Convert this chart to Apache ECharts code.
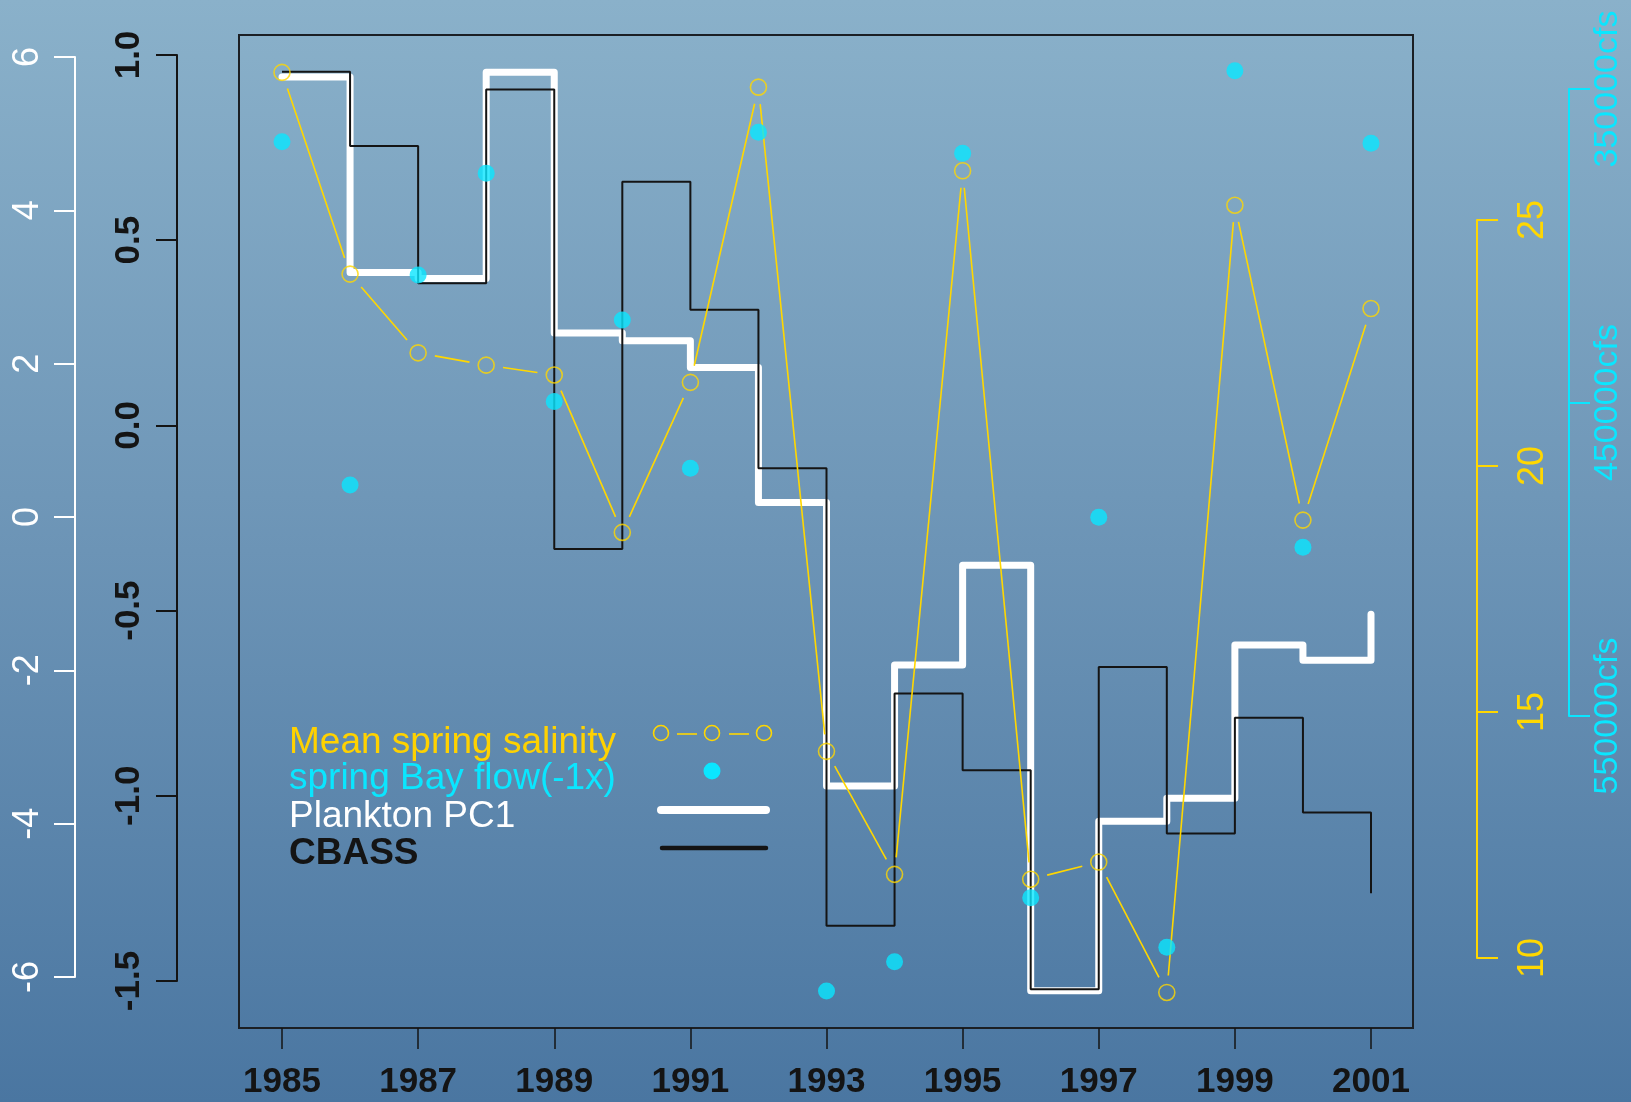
<!DOCTYPE html>
<html>
<head>
<meta charset="utf-8">
<title>Plankton PC1, CBASS, salinity and Bay flow</title>
<script src="https://cdn.jsdelivr.net/npm/echarts@6/dist/echarts.min.js"></script>
<style>
  html, body { margin: 0; padding: 0; background: #6b93b6; }
  #chart { width: 1631px; height: 1102px; }
</style>
</head>
<body>
<div id="chart"></div>
<script>
// ---- data -------------------------------------------------------------
const years = [1985, 1986, 1987, 1988, 1989, 1990, 1991, 1992, 1993,
               1994, 1995, 1996, 1997, 1998, 1999, 2000, 2001];
// mean spring salinity
const salinity = [28.0, 23.9, 22.3, 22.05, 21.85, 18.65, 21.7, 27.7, 14.2,
                  11.7, 26.0, 11.6, 11.95, 9.3, 25.3, 18.9, 23.2];
// spring Bay flow (cfs), plotted on an inverted axis
const bayFlow = [366800, 476300, 409300, 376900, 449700, 423700, 471000, 363800, 637700,
                 628400, 370500, 608000, 486600, 623800, 344200, 496200, 367300];
// plankton PC1 score
const planktonPC1 = [5.74, 3.19, 3.11, 5.80, 2.40, 2.30, 1.95, 0.19, -3.51,
                     -1.93, -0.63, -6.18, -3.97, -3.67, -1.67, -1.87, -1.27];
// CBASS index
const cbass = [0.955, 0.754, 0.384, 0.907, -0.334, 0.658, 0.312, -0.116, -1.351,
               -0.724, -0.931, -1.522, -0.652, -1.102, -0.789, -1.045, -1.263];

// axis tick ranges
const pcTicks = { min: -6, max: 6, step: 2 };
const cbassTicks = { min: -1.5, max: 1.0, step: 0.5 };
const salTicks = { min: 10, max: 25, step: 5 };
const flowTicks = { min: 350000, max: 550000, step: 100000 };
const legendLabels = ['Mean spring salinity', 'spring Bay flow(-1x)', 'Plankton PC1', 'CBASS'];

// ---- layout -----------------------------------------------------------
const PLOT = { left: 239, top: 35, right: 1413, bottom: 1028 };
const X_FIRST_PX = 282, X_LAST_PX = 1371;
const AX = {
  pc:    { x: 75,   top: 57,  bottom: 977 },
  cbass: { x: 177,  top: 55,  bottom: 981 },
  sal:   { x: 1477, top: 220, bottom: 958 },
  flow:  { x: 1569, top: 89,  bottom: 716 }
};
const GOLD = '#FFD700';
const CYAN = '#0AE6FF';
const INK = '#141414';
const FONT = "'Liberation Sans', Arial, sans-serif";

// value at pixel y, for an axis where vTop sits at pxTop and vBot at pxBot
function valueAt(py, vTop, pxTop, vBot, pxBot) {
  return vTop + (py - pxTop) * (vBot - vTop) / (pxBot - pxTop);
}
function extentOf(vTop, vBot, a) {
  const a1 = valueAt(PLOT.top, vTop, a.top, vBot, a.bottom);
  const a2 = valueAt(PLOT.bottom, vTop, a.top, vBot, a.bottom);
  return [Math.min(a1, a2), Math.max(a1, a2)];
}
const pcExt = extentOf(pcTicks.max, pcTicks.min, AX.pc);
const cbExt = extentOf(cbassTicks.max, cbassTicks.min, AX.cbass);
const salExt = extentOf(salTicks.max, salTicks.min, AX.sal);
const flowExt = extentOf(flowTicks.min, flowTicks.max, AX.flow);
const perYear = (X_LAST_PX - X_FIRST_PX) / (years[years.length - 1] - years[0]);
const xMin = years[0] - (X_FIRST_PX - PLOT.left) / perYear;
const xMax = years[years.length - 1] + (PLOT.right - X_LAST_PX) / perYear;

const pairs = arr => years.map((y, i) => [y, arr[i]]);
const salSegments = years.slice(0, -1).map((y, i) => [y, salinity[i], years[i + 1], salinity[i + 1]]);
const GAP = 17;

function hiddenX(gridIndex) {
  return { gridIndex, type: 'value', min: 0, max: 1, show: false, splitLine: { show: false } };
}
function decoAxis(gridIndex, position, t, color, bold, fontSize, margin, fmt, inverse) {
  return {
    gridIndex, type: 'value', position, min: t.min, max: t.max, interval: t.step, inverse: !!inverse,
    axisLine: { show: true, onZero: false, lineStyle: { color, width: 2 } },
    axisTick: { show: true, length: 21, lineStyle: { color, width: 2 } },
    splitLine: { show: false },
    axisLabel: {
      rotate: 90, margin, color: bold ? INK : color, fontFamily: FONT,
      fontWeight: bold ? 'bold' : 'normal', fontSize, formatter: fmt
    }
  };
}
const gridBase = { containLabel: false, outerBoundsMode: 'none' };

const option = {
  animation: false,
  backgroundColor: {
    type: 'linear', x: 0, y: 0, x2: 0, y2: 1,
    colorStops: [
      { offset: 0, color: '#8AB1CA' },
      { offset: 0.5, color: '#6C94B6' },
      { offset: 1, color: '#4A76A1' }
    ]
  },
  grid: [
    Object.assign({ left: PLOT.left, top: PLOT.top, width: PLOT.right - PLOT.left, height: PLOT.bottom - PLOT.top,
      show: true, borderColor: '#1b1f24', borderWidth: 2, backgroundColor: 'transparent' }, gridBase),
    Object.assign({ left: AX.pc.x, top: AX.pc.top, width: 10, height: AX.pc.bottom - AX.pc.top }, gridBase),
    Object.assign({ left: AX.cbass.x, top: AX.cbass.top, width: 10, height: AX.cbass.bottom - AX.cbass.top }, gridBase),
    Object.assign({ left: AX.sal.x - 10, top: AX.sal.top, width: 10, height: AX.sal.bottom - AX.sal.top }, gridBase),
    Object.assign({ left: AX.flow.x - 10, top: AX.flow.top, width: 10, height: AX.flow.bottom - AX.flow.top }, gridBase),
    Object.assign({ left: X_FIRST_PX, top: PLOT.bottom - 20, width: X_LAST_PX - X_FIRST_PX, height: 20 }, gridBase)
  ],
  xAxis: [
    { gridIndex: 0, type: 'value', min: xMin, max: xMax, show: false, splitLine: { show: false } },
    hiddenX(1), hiddenX(2), hiddenX(3), hiddenX(4),
    {
      gridIndex: 5, type: 'category', data: years.map(String), boundaryGap: false, position: 'bottom',
      axisLine: { show: false, onZero: false },
      axisTick: { show: true, interval: 1, length: 21, lineStyle: { color: INK, width: 1.5 } },
      axisLabel: { interval: 1, margin: 37, color: INK, fontFamily: FONT, fontWeight: 'bold', fontSize: 35 },
      splitLine: { show: false }
    }
  ],
  yAxis: [
    { gridIndex: 0, type: 'value', min: cbExt[0], max: cbExt[1], show: false, splitLine: { show: false } },
    { gridIndex: 0, type: 'value', min: pcExt[0], max: pcExt[1], show: false, splitLine: { show: false } },
    { gridIndex: 0, type: 'value', min: salExt[0], max: salExt[1], show: false, splitLine: { show: false } },
    { gridIndex: 0, type: 'value', min: flowExt[0], max: flowExt[1], inverse: true, show: false, splitLine: { show: false } },
    decoAxis(1, 'left', pcTicks, '#FFFFFF', false, 36, 29, v => String(v)),
    decoAxis(2, 'left', cbassTicks, INK, true, 35, 30, v => v.toFixed(1)),
    decoAxis(3, 'right', salTicks, GOLD, false, 36, 38, v => String(v)),
    decoAxis(4, 'right', flowTicks, CYAN, false, 34, 22, v => v + 'cfs', true),
    { gridIndex: 5, type: 'value', min: 0, max: 1, show: false, splitLine: { show: false } }
  ],
  series: [
    {
      name: 'Plankton PC1', type: 'line', xAxisIndex: 0, yAxisIndex: 1, step: 'end',
      data: pairs(planktonPC1), showSymbol: false, symbol: 'none', z: 2,
      lineStyle: { color: '#FFFFFF', width: 7, cap: 'round', join: 'round' }
    },
    {
      name: 'CBASS', type: 'line', xAxisIndex: 0, yAxisIndex: 0, step: 'end',
      data: pairs(cbass), showSymbol: false, symbol: 'none', z: 3,
      lineStyle: { color: INK, width: 2 }
    },
    {
      name: 'Mean spring salinity', type: 'custom', xAxisIndex: 0, yAxisIndex: 2, z: 4,
      data: salSegments, encode: { x: [0, 2], y: [1, 3] },
      renderItem: (params, api) => {
        const a = api.coord([api.value(0), api.value(1)]);
        const b = api.coord([api.value(2), api.value(3)]);
        const dx = b[0] - a[0], dy = b[1] - a[1];
        const len = Math.hypot(dx, dy);
        if (len <= 2 * GAP) return null;
        const ux = dx / len, uy = dy / len;
        return {
          type: 'line',
          shape: { x1: a[0] + ux * GAP, y1: a[1] + uy * GAP, x2: b[0] - ux * GAP, y2: b[1] - uy * GAP },
          style: { stroke: GOLD, lineWidth: 1.6 }
        };
      }
    },
    {
      name: 'Mean spring salinity points', type: 'scatter', xAxisIndex: 0, yAxisIndex: 2, z: 5,
      data: pairs(salinity), symbol: 'circle', symbolSize: 16,
      itemStyle: { color: 'rgba(0,0,0,0)', borderColor: GOLD, borderWidth: 1.6 }
    },
    {
      name: 'spring Bay flow', type: 'scatter', xAxisIndex: 0, yAxisIndex: 3, z: 6,
      data: pairs(bayFlow), symbol: 'circle', symbolSize: 17,
      itemStyle: { color: CYAN }
    }
  ],
  graphic: [
    { type: 'text', left: 289, top: 724, z: 10,
      style: { text: legendLabels[0], fill: '#FFD200', font: `37px ${FONT}` } },
    { type: 'text', left: 289, top: 760, z: 10,
      style: { text: legendLabels[1], fill: CYAN, font: `37px ${FONT}` } },
    { type: 'text', left: 289, top: 798, z: 10,
      style: { text: legendLabels[2], fill: '#FFFFFF', font: `37px ${FONT}` } },
    { type: 'text', left: 289, top: 835, z: 10,
      style: { text: legendLabels[3], fill: INK, font: `bold 37px ${FONT}` } },
    { type: 'circle', z: 10, shape: { cx: 661, cy: 733, r: 7.5 }, style: { fill: 'none', stroke: GOLD, lineWidth: 1.6 } },
    { type: 'circle', z: 10, shape: { cx: 712, cy: 733, r: 7.5 }, style: { fill: 'none', stroke: GOLD, lineWidth: 1.6 } },
    { type: 'circle', z: 10, shape: { cx: 764, cy: 733, r: 7.5 }, style: { fill: 'none', stroke: GOLD, lineWidth: 1.6 } },
    { type: 'line', z: 10, shape: { x1: 677, y1: 734, x2: 697, y2: 734 }, style: { stroke: GOLD, lineWidth: 1.6 } },
    { type: 'line', z: 10, shape: { x1: 729, y1: 734, x2: 749, y2: 734 }, style: { stroke: GOLD, lineWidth: 1.6 } },
    { type: 'circle', z: 10, shape: { cx: 712, cy: 771, r: 8.5 }, style: { fill: CYAN } },
    { type: 'line', z: 10, shape: { x1: 661, y1: 810, x2: 766, y2: 810 }, style: { stroke: '#FFFFFF', lineWidth: 8, lineCap: 'round' } },
    { type: 'line', z: 10, shape: { x1: 662, y1: 848, x2: 766, y2: 848 }, style: { stroke: INK, lineWidth: 4.5, lineCap: 'round' } }
  ]
};

const chart = echarts.init(document.getElementById('chart'), null, { renderer: 'canvas', width: 1631, height: 1102 });
chart.setOption(option);
</script>
</body>
</html>
